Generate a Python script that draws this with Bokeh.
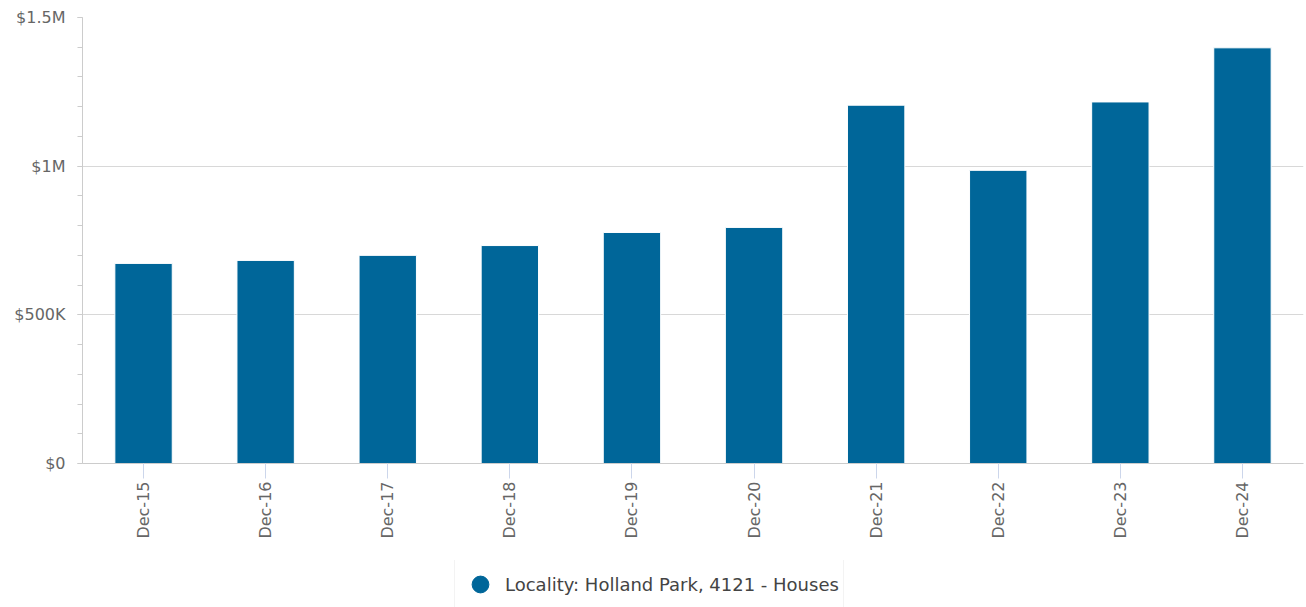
import math
from bokeh.plotting import figure
from bokeh.layouts import column
from bokeh.models import (FactorRange, Range1d, SingleIntervalTicker, Legend,
                          LegendItem, ColumnDataSource)
from bokeh.embed import file_html
from bokeh.resources import INLINE

# ---- data ----
categories = ["Dec-15", "Dec-16", "Dec-17", "Dec-18", "Dec-19",
              "Dec-20", "Dec-21", "Dec-22", "Dec-23", "Dec-24"]
median_values = [673000, 683000, 700000, 733000, 777000,
                 794000, 1205000, 986000, 1216000, 1398000]
y_tick_values = [0, 500000, 1000000, 1500000]
y_tick_labels = ["$0", "$500K", "$1M", "$1.5M"]
series_name = "Locality: Holland Park, 4121 - Houses"

BAR_COLOR = "#006699"
FONT = "DejaVu Sans"

source = ColumnDataSource(data=dict(cat=categories, val=median_values))

p = figure(width=1306, height=560,
           x_range=FactorRange(*categories, range_padding=0),
           y_range=Range1d(0, 1500000),
           output_backend="svg", toolbar_location=None,
           min_border_left=82, min_border_right=3,
           min_border_top=17, min_border_bottom=97)

p.outline_line_color = None
p.background_fill_color = "white"
p.border_fill_color = "white"

p.vbar(x="cat", top="val", width=0.47, source=source,
       fill_color=BAR_COLOR, line_color="white", line_width=1)

# grid
p.xgrid.visible = False
p.ygrid.grid_line_color = "#d8d8d8"
p.ygrid.grid_line_width = 1

# y axis
p.yaxis.ticker = SingleIntervalTicker(interval=500000, num_minor_ticks=5)
p.yaxis.major_label_overrides = {v: l for v, l in zip(y_tick_values, y_tick_labels)}
p.yaxis.axis_line_color = "#cccccc"
p.yaxis.major_tick_line_color = "#cccccc"
p.yaxis.minor_tick_line_color = "#cccccc"
p.yaxis.major_tick_in = 0
p.yaxis.major_tick_out = 5
p.yaxis.minor_tick_in = 0
p.yaxis.minor_tick_out = 5
p.yaxis.major_label_standoff = 12
p.yaxis.major_label_text_font = FONT
p.yaxis.major_label_text_font_size = "16px"
p.yaxis.major_label_text_color = "#666666"

# x axis
p.xaxis.axis_line_color = "#cccccc"
p.xaxis.major_tick_line_color = "#ccd6eb"
p.xaxis.major_tick_in = 0
p.xaxis.major_tick_out = 15
p.xaxis.minor_tick_line_color = None
p.xaxis.major_label_orientation = math.pi / 2
p.xaxis.major_label_standoff = 3
p.xaxis.major_label_text_font = FONT
p.xaxis.major_label_text_font_size = "16px"
p.xaxis.major_label_text_color = "#666666"

# ---- legend strip below the chart ----
lg = figure(width=1306, height=47, x_range=Range1d(0, 1), y_range=Range1d(0, 1),
            output_backend="svg", toolbar_location=None,
            x_axis_location=None, y_axis_location=None, min_border=0)
lg.outline_line_color = None
lg.xgrid.visible = False
lg.ygrid.visible = False
# legend-key renderer; its single point lies outside the strip's ranges (not shown)
dummy = lg.scatter(x=[-5], y=[-5], marker="circle", fill_color=BAR_COLOR,
                   line_color=BAR_COLOR)
legend = Legend(items=[LegendItem(label=series_name, renderers=[dummy])],
                location=(372, -3), orientation="horizontal",
                padding=4, glyph_width=42, glyph_height=42, label_standoff=4,
                label_text_font=FONT, label_text_font_size="18px",
                label_text_color="#444444",
                border_line_color="#e8e8e8", border_line_width=1,
                background_fill_color="white", background_fill_alpha=1,
                margin=0)
lg.add_layout(legend, "center")

layout = column(p, lg, spacing=0)
open("out.html", "w").write(file_html(layout, INLINE))
